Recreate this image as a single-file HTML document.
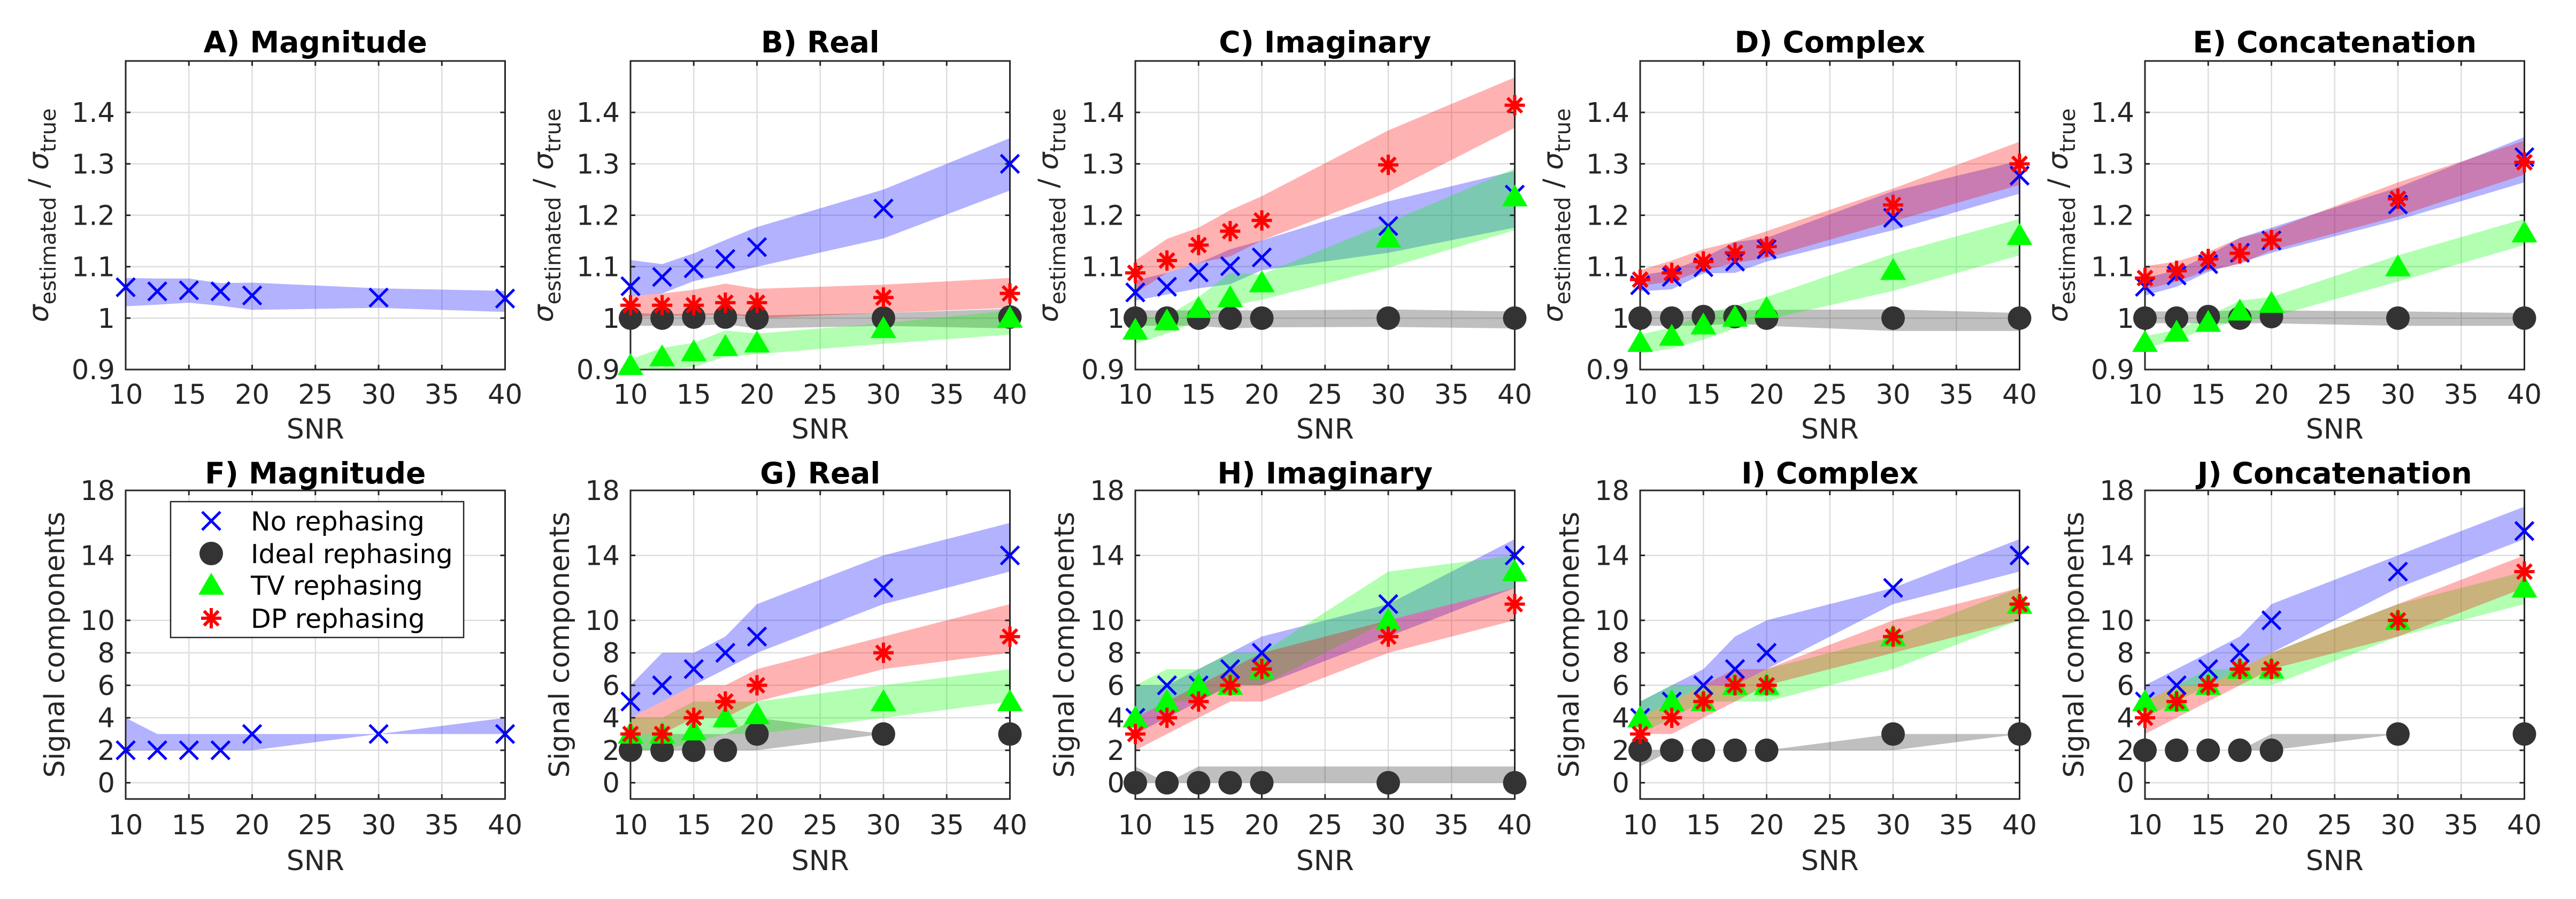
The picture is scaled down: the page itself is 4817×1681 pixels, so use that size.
<!DOCTYPE html>
<html><head><meta charset="utf-8">
<style>
html,body{margin:0;padding:0;background:#fff;}
svg{display:block;}
text{font-family:"DejaVu Sans","Liberation Sans",sans-serif;}
</style></head>
<body>
<svg id="fig" xmlns="http://www.w3.org/2000/svg" width="4817" height="1681" viewBox="0 0 4817 1681"></svg>
<script>
const snr=[10,12.5,15,17.5,20,30,40];
const topTicks=[0.9,1,1.1,1.2,1.3,1.4];
const topTickLabels=["0.9","1","1.1","1.2","1.3","1.4"];
const botTicks=[0,2,4,6,8,10,14,18];
const botTickLabels=["0","2","4","6","8","10","14","18"];
const xTicks=[10,15,20,25,30,35,40];
const xTickLabels=["10","15","20","25","30","35","40"];

// A Magnitude
const aNoMed=[1.06,1.052,1.054,1.052,1.044,1.04,1.038];
const aNoLo=[1.023,1.026,1.03,1.024,1.016,1.02,1.012];
const aNoHi=[1.078,1.077,1.077,1.068,1.069,1.058,1.053];
// B Real
const bNoMed=[1.062,1.08,1.097,1.115,1.138,1.213,1.3];
const bNoLo=[1.043,1.048,1.072,1.085,1.1,1.155,1.248];
const bNoHi=[1.113,1.105,1.126,1.152,1.177,1.25,1.35];
const bIdealMed=[1,1,1.002,1.002,1,1,1.002];
const bIdealLo=[0.985,0.985,0.985,0.988,0.98,0.985,0.98];
const bIdealHi=[1.01,1.008,1.008,1.01,1.005,1.01,1.018];
const bTvMed=[0.908,0.925,0.935,0.945,0.952,0.98,1.0];
const bTvLo=[0.9,0.9,0.905,0.925,0.93,0.95,0.968];
const bTvHi=[0.92,0.942,0.952,0.976,0.97,0.99,1.015];
const bDpMed=[1.025,1.025,1.025,1.03,1.03,1.04,1.048];
const bDpLo=[1.002,1.005,1.005,1.008,1.0,1.01,1.02];
const bDpHi=[1.043,1.048,1.055,1.067,1.057,1.065,1.078];
// C Imaginary
const cNoMed=[1.05,1.061,1.089,1.101,1.118,1.179,1.24];
const cNoLo=[1.034,1.046,1.058,1.066,1.093,1.127,1.176];
const cNoHi=[1.073,1.088,1.107,1.134,1.151,1.227,1.286];
const cIdealMed=[1,1,1,1,1,1,1];
const cIdealLo=[0.985,0.985,0.985,0.98,0.982,0.983,0.98];
const cIdealHi=[1.015,1.015,1.015,1.015,1.015,1.017,1.013];
const cTvMed=[0.977,0.995,1.019,1.04,1.069,1.156,1.236];
const cTvLo=[0.95,0.97,0.995,1.024,1.036,1.098,1.171];
const cTvHi=[1.0,1.004,1.041,1.088,1.085,1.186,1.291];
const cDpMed=[1.088,1.112,1.142,1.169,1.19,1.298,1.414];
const cDpLo=[1.049,1.088,1.107,1.12,1.151,1.245,1.37];
const cDpHi=[1.112,1.154,1.176,1.21,1.237,1.365,1.468];
// D Complex
const dNoMed=[1.064,1.08,1.099,1.11,1.134,1.195,1.277];
const dNoLo=[1.052,1.056,1.087,1.088,1.11,1.171,1.242];
const dNoHi=[1.083,1.093,1.117,1.148,1.156,1.247,1.306];
const dIdealMed=[1,1,1.003,1.003,1,1,1];
const dIdealLo=[0.985,0.985,0.985,0.99,0.985,0.975,0.975];
const dIdealHi=[1.015,1.013,1.015,1.015,1.016,1.017,1.01];
const dTvMed=[0.953,0.965,0.987,1.002,1.019,1.093,1.161];
const dTvLo=[0.931,0.941,0.958,0.98,0.997,1.053,1.122];
const dTvHi=[0.968,0.982,1.007,1.024,1.041,1.125,1.193];
const dDpMed=[1.075,1.088,1.11,1.127,1.139,1.22,1.3];
const dDpLo=[1.063,1.071,1.093,1.107,1.117,1.188,1.259];
const dDpHi=[1.093,1.112,1.134,1.149,1.169,1.252,1.343];
// E Concatenation
const eNoMed=[1.061,1.083,1.105,1.127,1.151,1.221,1.313];
const eNoLo=[1.044,1.061,1.09,1.107,1.127,1.191,1.264];
const eNoHi=[1.078,1.093,1.122,1.156,1.176,1.254,1.352];
const eIdealMed=[1,1,1.003,1,1.003,1,1];
const eIdealLo=[0.99,0.99,0.99,0.99,0.99,0.985,0.985];
const eIdealHi=[1.013,1.013,1.013,1.015,1.015,1.013,1.01];
const eTvMed=[0.953,0.973,0.992,1.014,1.029,1.1,1.166];
const eTvLo=[0.941,0.958,0.98,0.995,1.002,1.071,1.142];
const eTvHi=[0.965,0.977,1.004,1.034,1.041,1.122,1.193];
const eDpMed=[1.078,1.092,1.115,1.126,1.152,1.232,1.303];
const eDpLo=[1.056,1.071,1.093,1.105,1.132,1.198,1.279];
const eDpHi=[1.101,1.11,1.129,1.156,1.171,1.264,1.345];
// F Magnitude (components)
const fNoMed=[2,2,2,2,3,3,3];
const fNoLo=[2,2,2,2,2,3,3];
const fNoHi=[4,3,3,3,3,3,4];
// G Real
const gNoMed=[5,6,7,8,9,12,14];
const gNoLo=[4,5,6,7,8,11,13];
const gNoHi=[6,8,8,9,11,14,16];
const gIdealMed=[2,2,2,2,3,3,3];
const gIdealLo=[2,2,2,2,2,3,3];
const gIdealHi=[3,3,3,3,4,3,3];
const gTvMed=[3,3,3.2,4,4.2,5,5];
const gTvLo=[2,2,2.5,3,3,4,5];
const gTvHi=[4,4,5,5,5,6,7];
const gDpMed=[3,3,4,5,6,8,9];
const gDpLo=[3,3,4,4,5,7,8];
const gDpHi=[4,5,6,6,7,9,11];
// H Imaginary
const hNoMed=[4,6,6,7,8,11,14];
const hNoLo=[3,4,5,6,6,9,12];
const hNoHi=[6,6,7,8,9,11,15];
const hIdealMed=[0,0,0,0,0,0,0];
const hIdealLo=[0,0,0,0,0,0,0];
const hIdealHi=[1,0,1,1,1,1,1];
const hTvMed=[4,5,6,6,7,10,13];
const hTvLo=[4,5,5,6,6,10,12];
const hTvHi=[6,7,7,8,8,13,14];
const hDpMed=[3,4,5,6,7,9,11];
const hDpLo=[2,3,4,5,5,8,10];
const hDpHi=[4,5,6,7,8,10,12];
// I Complex
const iNoMed=[4,5,6,7,8,12,14];
const iNoLo=[4,5,6,6,7,11,13];
const iNoHi=[5,6,7,9,10,12,15];
const iIdealMed=[2,2,2,2,2,3,3];
const iIdealLo=[1,2,2,2,2,2,3];
const iIdealHi=[2,2,2,2,2,3,3];
const iTvMed=[4,5,5,6,6,9,11];
const iTvLo=[3,4,5,5,5,7,10];
const iTvHi=[5,6,6,6,7,9,12];
const iDpMed=[3,4,5,6,6,9,11];
const iDpLo=[3,3,4,5,6,8,10];
const iDpHi=[4,5,6,7,7,10,12];
// J Concatenation
const jNoMed=[5,6,7,8,10,13,15.5];
const jNoLo=[5,6,6,7,8,12,15];
const jNoHi=[6,7,8,9,11,14,17];
const jIdealMed=[2,2,2,2,2,3,3];
const jIdealLo=[2,2,2,2,2,3,3];
const jIdealHi=[2,2,2,2,3,3,3];
const jTvMed=[5,5,6,7,7,10,12];
const jTvLo=[4,5,6,6,6,9,11];
const jTvHi=[5,6,7,7,8,11,13];
const jDpMed=[4,5,6,7,7,10,13];
const jDpLo=[3,4,5,6,7,9,12];
const jDpHi=[5,6,6,7,8,11,14];

const NS="http://www.w3.org/2000/svg";
const svg=document.getElementById('fig');
function mk(tag,attrs,parent){const e=document.createElementNS(NS,tag);for(const k in attrs)e.setAttribute(k,attrs[k]);(parent||svg).appendChild(e);return e;}

const STYLE={
 no:{band:"rgba(0,0,255,0.3)",color:"#0000ff",label:"No rephasing"},
 ideal:{band:"rgba(0,0,0,0.25)",color:"#333333",label:"Ideal rephasing"},
 tv:{band:"rgba(0,255,0,0.3)",color:"#00ff00",label:"TV rephasing"},
 dp:{band:"rgba(255,0,0,0.3)",color:"#ff0000",label:"DP rephasing"}
};

function marker(kind,x,y,g){
  let e;
  if(kind==='no'){
    const s=17;
    e=mk('path',{d:`M${x-s},${y-s}L${x+s},${y+s}M${x-s},${y+s}L${x+s},${y-s}`,stroke:"#0000ff","stroke-width":5,fill:"none"},g);
  }else if(kind==='ideal'){
    e=mk('ellipse',{cx:x,cy:y,rx:22,ry:22,fill:"#333333"},g);
  }else if(kind==='tv'){
    e=mk('polygon',{points:`${x},${y-23} ${x-24},${y+18} ${x+24},${y+18}`,fill:"#00ff00"},g);
  }else{
    const s=19,d=13.5;
    e=mk('path',{d:`M${x-s},${y}L${x+s},${y}M${x},${y-s}L${x},${y+s}M${x-d},${y-d}L${x+d},${y+d}M${x-d},${y+d}L${x+d},${y-d}`,stroke:"#ff0000","stroke-width":6,fill:"none"},g);
  }
  return e;
}

function panel(cfg){
  const {left,top,w,h,ymin,ymax,yt,ytl,title,series,id}=cfg;
  const sx=v=>left+(v-10)/30*w;
  const sy=v=>top+h-(v-ymin)/(ymax-ymin)*h;
  const g=mk('g',{});
  
  
  mk('rect',{x:left,y:top,width:w,height:h,fill:"#fff"},g);
  xTicks.forEach(t=>{const l=mk('line',{x1:sx(t),x2:sx(t),y1:top,y2:top+h,stroke:"#dedede","stroke-width":2.5},g);
    
    });
  yt.forEach(t=>{const l=mk('line',{x1:left,x2:left+w,y1:sy(t),y2:sy(t),stroke:"#dedede","stroke-width":2.5},g);
    
    });
  series.forEach(s=>{
    let d="";
    snr.forEach((v,i)=>{d+=(i?"L":"M")+sx(v).toFixed(1)+","+sy(s.hi[i]).toFixed(1);});
    for(let i=snr.length-1;i>=0;i--){d+="L"+sx(snr[i]).toFixed(1)+","+sy(s.lo[i]).toFixed(1);}
    d+="Z";
    const p=mk('path',{d:d,fill:STYLE[s.k].band,stroke:"none"},g);
    
    
  });
  const box=mk('rect',{x:left,y:top,width:w,height:h,fill:"none",stroke:"#262626","stroke-width":3},g);
  
  
  xTicks.forEach((t,i)=>{
    mk('line',{x1:sx(t),x2:sx(t),y1:top+h,y2:top+h-9,stroke:"#262626","stroke-width":3},g);
    mk('line',{x1:sx(t),x2:sx(t),y1:top,y2:top+9,stroke:"#262626","stroke-width":3},g);
    const tx=mk('text',{x:sx(t),y:top+h+cfg.xtOff,"font-size":51,fill:"#262626","text-anchor":"middle"},g);
    tx.textContent=xTickLabels[i];
    
    
  });
  yt.forEach((t,i)=>{
    mk('line',{x1:left,x2:left+9,y1:sy(t),y2:sy(t),stroke:"#262626","stroke-width":3},g);
    mk('line',{x1:left+w,x2:left+w-9,y1:sy(t),y2:sy(t),stroke:"#262626","stroke-width":3},g);
    const tx=mk('text',{x:left-20,y:sy(t)+18,"font-size":51,fill:"#262626","text-anchor":"end"},g);
    tx.textContent=ytl[i];
    
    
  });
  series.forEach(s=>{
    const mg=mk('g',{},g);
    
    
    snr.forEach((v,i)=>{
      const m=marker(s.k,sx(v),sy(s.med[i]),mg);
      
      
    });
  });
  const tt=mk('text',{x:left+w/2,y:cfg.titleY,"font-size":55,"font-weight":"bold",fill:"#000","text-anchor":"middle"},g);
  tt.textContent=title;
  
  
  const xl=mk('text',{x:left+w/2,y:top+h+cfg.xlOff,"font-size":52,fill:"#262626","text-anchor":"middle"},g);
  xl.textContent="SNR";
  
  
  const cy=top+h/2;
  if(cfg.row===0){
    const yx=left-145;
    const yl=mk('text',{x:yx,y:cy,"font-size":52,fill:"#262626","text-anchor":"middle",transform:`rotate(-90 ${yx} ${cy})`},g);
    
    
    const a=mk('tspan',{"font-style":"italic"},yl);a.textContent="σ";
    const b=mk('tspan',{dy:14,"font-size":40},yl);b.textContent="estimated";
    const c=mk('tspan',{dy:-14},yl);c.textContent=" / ";
    const d=mk('tspan',{"font-style":"italic"},yl);d.textContent="σ";
    const e=mk('tspan',{dy:14,"font-size":40},yl);e.textContent="true";
  }else{
    const yx=left-115;
    const yl=mk('text',{x:yx,y:cy,"font-size":52,fill:"#262626","text-anchor":"middle",transform:`rotate(-90 ${yx} ${cy})`},g);
    yl.textContent="Signal components";
    
    
  }
}

const lefts=[235,1179,2123,3067,4011];
const W=709.5;
const topRow={top:114,h:577,ymin:0.9,ymax:1.5,yt:topTicks,ytl:topTickLabels,titleY:98,xtOff:64,xlOff:129,row:0};
const botRow={top:917,h:577,ymin:-1,ymax:18,yt:botTicks,ytl:botTickLabels,titleY:904,xtOff:66,xlOff:133,row:1};

const topPanels=[
 {id:'a',title:"A) Magnitude",series:[{k:'no',med:aNoMed,lo:aNoLo,hi:aNoHi}]},
 {id:'b',title:"B) Real",series:[{k:'no',med:bNoMed,lo:bNoLo,hi:bNoHi},{k:'ideal',med:bIdealMed,lo:bIdealLo,hi:bIdealHi},{k:'tv',med:bTvMed,lo:bTvLo,hi:bTvHi},{k:'dp',med:bDpMed,lo:bDpLo,hi:bDpHi}]},
 {id:'c',title:"C) Imaginary",series:[{k:'no',med:cNoMed,lo:cNoLo,hi:cNoHi},{k:'ideal',med:cIdealMed,lo:cIdealLo,hi:cIdealHi},{k:'tv',med:cTvMed,lo:cTvLo,hi:cTvHi},{k:'dp',med:cDpMed,lo:cDpLo,hi:cDpHi}]},
 {id:'d',title:"D) Complex",series:[{k:'no',med:dNoMed,lo:dNoLo,hi:dNoHi},{k:'ideal',med:dIdealMed,lo:dIdealLo,hi:dIdealHi},{k:'tv',med:dTvMed,lo:dTvLo,hi:dTvHi},{k:'dp',med:dDpMed,lo:dDpLo,hi:dDpHi}]},
 {id:'e',title:"E) Concatenation",series:[{k:'no',med:eNoMed,lo:eNoLo,hi:eNoHi},{k:'ideal',med:eIdealMed,lo:eIdealLo,hi:eIdealHi},{k:'tv',med:eTvMed,lo:eTvLo,hi:eTvHi},{k:'dp',med:eDpMed,lo:eDpLo,hi:eDpHi}]}
];
const botPanels=[
 {id:'f',title:"F) Magnitude",series:[{k:'no',med:fNoMed,lo:fNoLo,hi:fNoHi}]},
 {id:'g',title:"G) Real",series:[{k:'no',med:gNoMed,lo:gNoLo,hi:gNoHi},{k:'ideal',med:gIdealMed,lo:gIdealLo,hi:gIdealHi},{k:'tv',med:gTvMed,lo:gTvLo,hi:gTvHi},{k:'dp',med:gDpMed,lo:gDpLo,hi:gDpHi}]},
 {id:'h',title:"H) Imaginary",series:[{k:'no',med:hNoMed,lo:hNoLo,hi:hNoHi},{k:'ideal',med:hIdealMed,lo:hIdealLo,hi:hIdealHi},{k:'tv',med:hTvMed,lo:hTvLo,hi:hTvHi},{k:'dp',med:hDpMed,lo:hDpLo,hi:hDpHi}]},
 {id:'i',title:"I) Complex",series:[{k:'no',med:iNoMed,lo:iNoLo,hi:iNoHi},{k:'ideal',med:iIdealMed,lo:iIdealLo,hi:iIdealHi},{k:'tv',med:iTvMed,lo:iTvLo,hi:iTvHi},{k:'dp',med:iDpMed,lo:iDpLo,hi:iDpHi}]},
 {id:'j',title:"J) Concatenation",series:[{k:'no',med:jNoMed,lo:jNoLo,hi:jNoHi},{k:'ideal',med:jIdealMed,lo:jIdealLo,hi:jIdealHi},{k:'tv',med:jTvMed,lo:jTvLo,hi:jTvHi},{k:'dp',med:jDpMed,lo:jDpLo,hi:jDpHi}]}
];
topPanels.forEach((p,i)=>panel(Object.assign({},topRow,p,{left:lefts[i],w:W})));
botPanels.forEach((p,i)=>panel(Object.assign({},botRow,p,{left:lefts[i],w:W})));

const lg=mk('g',{});


const lbox=mk('rect',{x:319,y:938,width:548,height:254,fill:"#fff",stroke:"#262626","stroke-width":2.5},lg);


const legKeys=['no','ideal','tv','dp'];
const legY=[974,1035,1094,1156];
legKeys.forEach((k,i)=>{
  const m=marker(k,395,legY[i],lg);
  
  
  const t=mk('text',{x:469,y:legY[i]+18,"font-size":49,fill:"#000"},lg);
  t.textContent=STYLE[k].label;
  
  
});
</script>
</body></html>
